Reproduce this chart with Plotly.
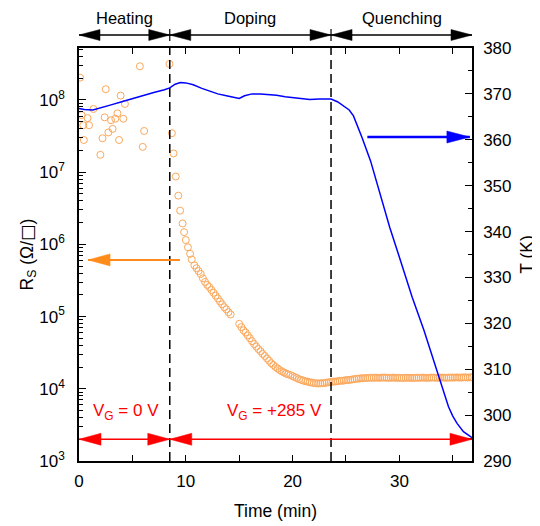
import math
import plotly.graph_objects as go

# ---------------- data ----------------
phase_bounds = [8.5, 23.6]
x_max = 36.8
phase_labels = ["Heating", "Doping", "Quenching"]

rs_time = [0.10, 0.25, 0.40, 0.45, 0.80, 0.94, 1.35, 2.00, 2.20, 2.40, 2.50, 2.75, 3.00, 3.15,
           3.40, 3.60, 3.75, 3.90, 4.15, 4.30, 5.70, 5.97, 6.10,
           8.47, 8.70, 8.85, 9.06, 9.30, 9.47, 9.70, 9.84, 10.00, 10.20, 10.40, 10.56,
           10.8, 11.0, 11.2, 11.4, 11.6, 11.8, 12.0, 12.2, 12.4, 12.6, 12.8, 13.0, 13.2, 13.4,
           13.6, 13.8, 14.0, 14.2,
           15.0, 15.2, 15.4, 15.6, 15.8, 16.0, 16.2, 16.4, 16.6, 16.8, 17.0, 17.2, 17.4, 17.6,
           17.8, 18.0, 18.2, 18.4, 18.6, 18.8, 19.0, 19.2, 19.4, 19.6, 19.8, 20.0, 20.2, 20.4,
           20.6, 20.8, 21.0, 21.2, 21.4, 21.6, 21.8, 22.0, 22.2, 22.4, 22.6, 22.8, 23.0, 23.2,
           23.4, 23.6, 23.8, 24.0, 24.2, 24.4, 24.6, 24.8, 25.0, 25.2, 25.4, 25.6, 25.8, 26.0,
           26.2, 26.4, 26.6, 26.8, 27.0, 27.2, 27.4, 27.6, 27.8, 28.0, 28.2, 28.4, 28.6, 28.8,
           29.0, 29.2, 29.4, 29.6, 29.8, 30.0, 30.2, 30.4, 30.6, 30.8, 31.0, 31.2, 31.4, 31.6,
           31.8, 32.0, 32.2, 32.4, 32.6, 32.8, 33.0, 33.2, 33.4, 33.6, 33.8, 34.0, 34.2, 34.4,
           34.6, 34.8, 35.0, 35.2, 35.4, 35.6, 35.8, 36.0, 36.2, 36.4, 36.6, 36.8]

rs_value = [2.04e8, 6.17e7, 4.47e7, 2.79e7, 5.62e7, 4.47e7, 7.50e7, 1.74e7, 2.95e7, 5.75e7,
            1.41e8, 3.55e7, 5.25e7, 3.98e7, 5.50e7, 6.53e7, 2.79e7, 1.15e8, 5.50e7, 8.81e7,
            2.93e8, 2.24e7, 3.72e7,
            3.16e8, 3.47e7, 1.82e7, 8.71e6, 4.73e6, 2.93e6, 1.95e6, 1.48e6, 1.15e6, 9.12e5,
            7.41e5, 6.17e5,
            5.13e5, 4.68e5, 4.27e5, 3.89e5, 3.39e5, 3.02e5, 2.75e5, 2.57e5, 2.34e5, 2.14e5,
            1.95e5, 1.78e5, 1.62e5, 1.48e5, 1.35e5, 1.26e5, 1.15e5, 1.07e5,
            7.94e4, 7.16e4, 6.46e4, 6.03e4, 5.50e4, 5.01e4, 4.57e4, 4.17e4, 3.85e4, 3.55e4,
            3.31e4, 3.05e4, 2.85e4, 2.63e4, 2.45e4, 2.26e4, 2.14e4, 2.00e4, 1.91e4, 1.82e4,
            1.74e4, 1.68e4, 1.62e4, 1.58e4, 1.55e4, 1.50e4, 1.45e4, 1.41e4, 1.36e4, 1.33e4,
            1.30e4, 1.27e4, 1.26e4, 1.23e4, 1.22e4, 1.20e4, 1.19e4, 1.19e4, 1.19e4, 1.20e4,
            1.20e4, 1.22e4, 1.23e4, 1.24e4, 1.26e4, 1.26e4, 1.27e4, 1.29e4, 1.29e4, 1.30e4,
            1.32e4, 1.32e4, 1.33e4, 1.35e4, 1.36e4, 1.38e4, 1.38e4, 1.40e4, 1.40e4, 1.41e4,
            1.41e4, 1.42e4, 1.42e4, 1.42e4, 1.43e4, 1.42e4, 1.42e4, 1.43e4, 1.43e4, 1.42e4,
            1.42e4, 1.42e4, 1.43e4, 1.42e4, 1.42e4, 1.42e4, 1.41e4, 1.42e4, 1.42e4, 1.42e4,
            1.42e4, 1.41e4, 1.42e4, 1.42e4, 1.42e4, 1.42e4, 1.43e4, 1.42e4, 1.42e4, 1.42e4,
            1.43e4, 1.43e4, 1.42e4, 1.42e4, 1.43e4, 1.43e4, 1.43e4, 1.42e4, 1.43e4, 1.43e4,
            1.43e4, 1.43e4, 1.44e4, 1.43e4, 1.43e4, 1.44e4, 1.44e4, 1.43e4, 1.44e4, 1.44e4]

temp_time = [0.0, 0.5, 1.3, 2.0, 3.0, 4.0, 5.0, 6.0, 7.0, 8.0, 8.5, 9.0, 9.5, 10.0, 10.7,
             11.5, 12.3, 13.0, 13.8, 14.5, 15.0, 15.5, 16.2, 17.0, 17.8, 18.5, 19.3, 20.1,
             20.9, 21.6, 22.5, 23.6, 24.2, 24.8, 25.3, 25.7, 26.1, 26.5, 27.3, 28.2, 29.1,
             30.1, 31.2, 32.3, 33.2, 34.0, 34.6, 35.0, 35.4, 36.0, 36.8]
temp_value = [366.8, 366.6, 366.5, 366.9, 367.6, 368.3, 369.0, 369.7, 370.3, 370.9, 371.3,
              372.1, 372.5, 372.4, 372.0, 371.2, 370.5, 370.0, 369.6, 369.2, 369.0, 369.6,
              370.0, 370.0, 369.9, 369.7, 369.4, 369.2, 369.0, 368.8, 368.9, 368.9, 368.3,
              367.4, 366.5, 365.2, 363.0, 360.5, 355.4, 348.2, 340.9, 333.7, 325.7, 318.5,
              312.0, 306.2, 301.8, 299.8, 298.2, 296.4, 295.1]

rs_ticks = [1e3, 1e4, 1e5, 1e6, 1e7, 1e8]
rs_ticktext = ["10<sup>3</sup>", "10<sup>4</sup>", "10<sup>5</sup>", "10<sup>6</sup>",
               "10<sup>7</sup>", "10<sup>8</sup>"]
rs_range_log = [3, 8.72]
t_range = [290, 380]

# ---------------- styling / helpers ----------------
FONT = "Liberation Sans, Arial, sans-serif"
FS = 17
FT = 17.5
OFF = 8                      # default page body margin
W, H = 540 - OFF, 526 - OFF
SL, ST = 79, 48              # plot-area top-left in the screenshot
PW, PH = 393, 413
ML, MT = SL - OFF, ST - OFF
MR, MB = W - ML - PW, H - MT - PH
ORANGE_MK = "#FBA85C"
ORANGE = "#FF8C1A"


def xp(t):
    return (t - 0) / x_max


def sx(px):      # screenshot x -> paper
    return (px - SL) / PW


def sy(py):      # screenshot y -> paper
    return (ST + PH - py) / PH


def yp_T(T):
    return (T - t_range[0]) / (t_range[1] - t_range[0])


def yp_R(R):
    return (math.log10(R) - rs_range_log[0]) / (rs_range_log[1] - rs_range_log[0])


shapes = []


def add_arrow(x0, x1, y, color, width, hl_px, hh_px, start=True, end=True):
    hl = hl_px / PW
    hh = hh_px / PH
    d = 1 if x1 >= x0 else -1
    shapes.append(dict(type="line", xref="paper", yref="paper", x0=x0, x1=x1, y0=y, y1=y,
                       line=dict(color=color, width=width)))
    if end:
        shapes.append(dict(type="path", xref="paper", yref="paper",
                           path=f"M {x1},{y} L {x1 - d*hl},{y + hh} L {x1 - d*hl},{y - hh} Z",
                           fillcolor=color, line=dict(color=color, width=0.5)))
    if start:
        shapes.append(dict(type="path", xref="paper", yref="paper",
                           path=f"M {x0},{y} L {x0 + d*hl},{y + hh} L {x0 + d*hl},{y - hh} Z",
                           fillcolor=color, line=dict(color=color, width=0.5)))


fig = go.Figure()
fig.add_trace(go.Scatter(x=rs_time, y=rs_value, mode="markers", yaxis="y",
                         marker=dict(symbol="circle-open", size=7, color=ORANGE_MK,
                                     line=dict(width=1)),
                         showlegend=False, hoverinfo="skip"))
fig.add_trace(go.Scatter(x=temp_time, y=temp_value, mode="lines", yaxis="y2",
                         line=dict(color="#0000FF", width=1.5),
                         showlegend=False, hoverinfo="skip"))

# dashed phase boundaries
for b in phase_bounds:
    shapes.append(dict(type="line", xref="x", yref="paper", x0=b, x1=b, y0=0, y1=1,
                       line=dict(color="black", width=1.5, dash="9px,5px")))
    shapes.append(dict(type="line", xref="x", yref="paper", x0=b, x1=b,
                       y0=sy(41), y1=sy(29), line=dict(color="black", width=1.2)))

# top phase arrows
y_top = sy(35)
edges = [0] + phase_bounds + [x_max]
for i in range(3):
    add_arrow(xp(edges[i]), xp(edges[i + 1]), y_top, "black", 1.5, 21, 5.5)

# red gate arrows at Rs = 2000
y_red = yp_R(2000)
add_arrow(xp(0), xp(phase_bounds[0]), y_red, "#FF0000", 1.5, 22, 6)
add_arrow(xp(phase_bounds[0]), xp(x_max), y_red, "#FF0000", 1.5, 22, 6)

# blue arrow -> right axis
add_arrow(xp(27.0), xp(36.6), yp_T(360.6), "#0000FF", 2.5, 23, 6, start=False, end=True)
# orange arrow -> left axis
add_arrow(xp(9.45), xp(0.85), yp_R(6.1e5), ORANGE, 2, 22, 6, start=False, end=True)

annotations = []
for i, lab in enumerate(phase_labels):
    annotations.append(dict(text=lab, xref="paper", yref="paper",
                            x=xp((edges[i] + edges[i + 1]) / 2), y=sy(18),
                            showarrow=False, xanchor="center", yanchor="middle",
                            font=dict(family=FONT, size=16.5, color="black")))
annotations.append(dict(text="V<sub>G</sub> = 0 V", xref="paper", yref="paper",
                        x=sx(126), y=sy(412), showarrow=False,
                        xanchor="center", yanchor="middle",
                        font=dict(family=FONT, size=FS, color="#FF0000")))
annotations.append(dict(text="V<sub>G</sub> = +285 V", xref="paper", yref="paper",
                        x=sx(274), y=sy(412), showarrow=False,
                        xanchor="center", yanchor="middle",
                        font=dict(family=FONT, size=FS, color="#FF0000")))

minor_vals = [k * 10 ** e for e in range(3, 9) for k in range(2, 10)
              if k * 10 ** e <= 10 ** rs_range_log[1]]

fig.update_layout(
    width=W, height=H,
    margin=dict(l=ML, r=MR, t=MT, b=MB, autoexpand=False),
    paper_bgcolor="white", plot_bgcolor="white",
    font=dict(family=FONT, size=FS, color="black"),
    shapes=shapes, annotations=annotations,
    xaxis=dict(range=[0, x_max], showline=True, linecolor="black", linewidth=1.5,
               mirror="allticks", ticks="inside", ticklen=6, tickwidth=1.2, tickcolor="black",
               tickvals=[0, 10, 20, 30], showgrid=False, zeroline=False,
               minor=dict(tickvals=[5, 15, 25, 35], ticks="inside", ticklen=4, tickcolor="black",
                          tickwidth=1.2, showgrid=False),
               tickfont=dict(size=FS), ticklabelstandoff=4,
               title=dict(text="Time (min)", font=dict(size=FT), standoff=15)),
    yaxis=dict(type="log", range=rs_range_log, showline=True, linecolor="black", linewidth=1.5,
               ticks="inside", ticklen=7, tickwidth=1.2, tickcolor="black",
               tickvals=rs_ticks, ticktext=rs_ticktext, showgrid=False, zeroline=False,
               minor=dict(tickvals=minor_vals, ticks="inside", ticklen=4, tickcolor="black",
                          tickwidth=1, showgrid=False),
               tickfont=dict(size=FS), ticklabelstandoff=9,
               title=dict(text="R<sub>S</sub> (Ω/<span style='font-family:DejaVu Sans'>□</span>)",
                          font=dict(size=FT), standoff=0)),
    yaxis2=dict(overlaying="y", side="right", anchor="x", range=t_range, showline=True,
                linecolor="black", linewidth=1.5, ticks="inside", ticklen=7, tickwidth=1.2,
                tickcolor="black", dtick=10, tick0=290, showgrid=False, zeroline=False,
                minor=dict(dtick=5, tick0=290, ticks="inside", ticklen=4, tickcolor="black",
                           tickwidth=1, showgrid=False),
                tickfont=dict(size=FS), ticklabelstandoff=6,
                title=dict(text="T (K)", font=dict(size=FT), standoff=10)),
)

fig.write_html("out.html")
